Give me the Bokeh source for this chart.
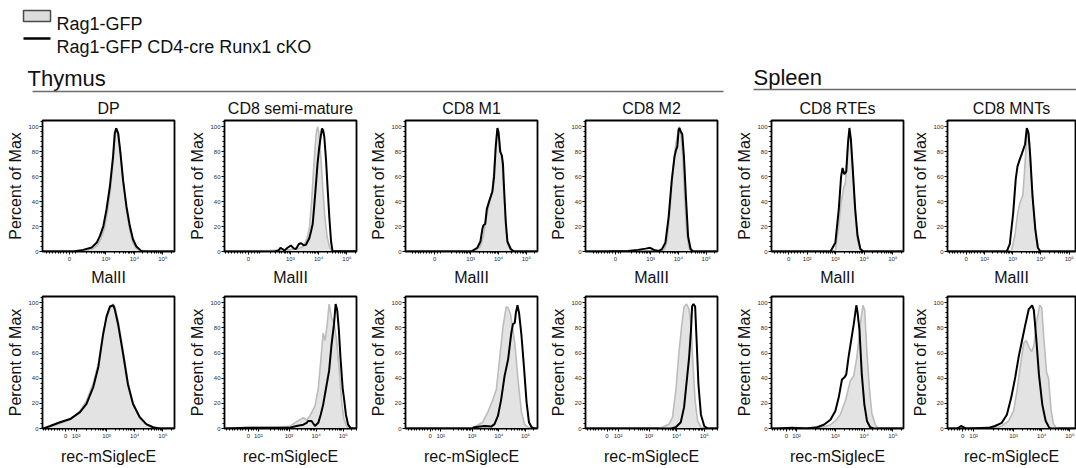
import numpy as np
from bokeh.plotting import figure
from bokeh.layouts import column, row
from bokeh.models import FixedTicker, Range1d
from bokeh.core.properties import value
from bokeh.embed import file_html
from bokeh.resources import INLINE

FONT = "Liberation Sans"

# ---------------- texts ----------------
legend_labels = ["Rag1-GFP", "Rag1-GFP CD4-cre Runx1 cKO"]
group_labels = ["Thymus", "Spleen"]
panel_titles = ["DP", "CD8 semi-mature", "CD8 M1", "CD8 M2", "CD8 RTEs", "CD8 MNTs"]
marker_labels = ["MalII", "rec-mSiglecE"]
y_axis_label = "Percent of Max"
y_ticks = [0, 20, 40, 60, 80, 100]
x_tick_labels = ["0", "10\u00b2", "10\u00b3", "10\u2074", "10\u2075"]

# ---------------- data (x in display decades: 3 = 10^3, 4 = 10^4 ...; y = % of max) ----------------
# Row 1: MalII
dp_malii_wt_x = [0.4, 2.0, 2.3, 2.55, 2.7, 2.82, 2.94, 3.05, 3.16, 3.26, 3.32, 3.37, 3.44, 3.52, 3.61, 3.72, 3.84, 3.95, 4.06, 4.2, 4.4, 5.6]
dp_malii_wt_y = [0, 0.2, 0.8, 2.2, 5, 10, 18, 31, 50, 74, 93, 99, 94, 77, 55, 33, 17, 7, 2.5, 0.5, 0, 0]
dp_malii_ko_x = [0.4, 1.9, 2.2, 2.5, 2.68, 2.79, 2.91, 3.02, 3.14, 3.25, 3.31, 3.36, 3.43, 3.51, 3.60, 3.72, 3.84, 3.95, 4.07, 4.24, 4.42, 5.6]
dp_malii_ko_y = [0, 0.3, 1.3, 3.2, 7.2, 12.5, 20.4, 33.7, 52.3, 76.1, 94.7, 98.7, 94.7, 78.8, 57.6, 36.3, 20.4, 9.8, 4.0, 0.5, 0, 0]

semi_malii_wt_x = [0.4, 2.0, 2.5, 3.0, 3.3, 3.45, 3.55, 3.62, 3.68, 3.75, 3.82, 3.88, 3.93, 3.97, 4.02, 4.08, 4.15, 4.22, 4.3, 4.38, 4.45, 4.55, 5.6]
semi_malii_wt_y = [0, 0.5, 1, 1.5, 2.5, 4, 8, 13, 20, 40, 65, 85, 97, 100, 93, 75, 50, 28, 12, 4, 1, 0, 0]
semi_malii_ko_x = [0.4, 2.45, 2.58, 2.65, 2.72, 2.79, 2.9, 3.02, 3.12, 3.2, 3.3, 3.38, 3.47, 3.55, 3.67, 3.73, 3.79, 3.85, 3.91, 3.96, 4.02, 4.08, 4.12, 4.16, 4.2, 4.26, 4.32, 4.38, 4.44, 4.49, 5.6]
semi_malii_ko_y = [0, 0, 0.8, 3, 2, 0.8, 3, 4.8, 2.5, 2, 6, 6.6, 5, 5.3, 10.6, 16, 22, 38, 55, 70, 83, 93, 98.6, 97, 92, 74, 50, 27, 8, 0.5, 0]

m1_malii_wt_x = [0.4, 3.1, 3.2, 3.35, 3.45, 3.55, 3.65, 3.78, 3.86, 3.93, 3.97, 4.02, 4.08, 4.14, 4.2, 4.26, 4.32, 4.44, 4.5, 5.6]
m1_malii_wt_y = [0, 0, 1, 4, 12, 25, 37, 50, 72, 92, 97, 92, 80, 68, 45, 20, 6, 1, 0, 0]
m1_malii_ko_x = [0.4, 3.0, 3.06, 3.24, 3.35, 3.42, 3.46, 3.52, 3.58, 3.66, 3.78, 3.84, 3.9, 3.96, 4.0, 4.06, 4.12, 4.16, 4.2, 4.26, 4.32, 4.44, 4.56, 5.6]
m1_malii_ko_y = [0, 0, 0.5, 3, 8, 18, 21, 22, 34, 40, 48, 60, 84, 99, 96, 80, 77, 70, 50, 24, 8, 2, 0, 0]

m2_malii_wt_x = [0.4, 3.4, 3.5, 3.6, 3.7, 3.8, 3.9, 3.98, 4.03, 4.1, 4.16, 4.22, 4.3, 4.38, 4.45, 5.6]
m2_malii_wt_y = [0, 0, 2, 10, 35, 65, 85, 95, 100, 92, 75, 45, 15, 3, 0, 0]
m2_malii_ko_x = [0.4, 1.5, 2.18, 2.53, 2.82, 2.98, 3.12, 3.29, 3.41, 3.53, 3.65, 3.76, 3.86, 3.91, 3.96, 4.01, 4.04, 4.09, 4.14, 4.2, 4.27, 4.35, 4.44, 4.53, 5.6]
m2_malii_ko_y = [0, 0.3, 0.5, 1.3, 2.3, 3, 1.3, 0.5, 2, 7, 28, 57, 76, 81, 84, 98, 99, 96, 94, 76, 44, 12, 2, 0, 0]

rte_malii_wt_x = [0.4, 2.95, 3.0, 3.12, 3.2, 3.29, 3.35, 3.4, 3.46, 3.5, 3.55, 3.61, 3.69, 3.77, 3.87, 3.95, 5.6]
rte_malii_wt_y = [0, 0, 1, 21, 39, 51, 55, 74, 92, 96, 87, 66, 31, 9, 1, 0, 0]
rte_malii_ko_x = [0.4, 2.83, 3.0, 3.12, 3.2, 3.25, 3.31, 3.38, 3.44, 3.49, 3.54, 3.6, 3.69, 3.77, 3.87, 3.98, 5.6]
rte_malii_ko_y = [0, 0, 7, 34, 60, 67, 62, 64, 87, 99, 90, 68, 34, 13, 2, 0, 0]

mnt_malii_wt_x = [0.4, 2.9, 2.96, 3.08, 3.18, 3.26, 3.36, 3.44, 3.5, 3.54, 3.6, 3.65, 3.74, 3.82, 3.92, 4.0, 5.6]
mnt_malii_wt_y = [0, 0, 1, 13, 31, 39, 45, 71, 94, 98, 87, 63, 34, 13, 2, 0, 0]
mnt_malii_ko_x = [0.4, 2.79, 2.9, 3.02, 3.11, 3.17, 3.24, 3.32, 3.44, 3.5, 3.56, 3.62, 3.7, 3.8, 3.89, 3.98, 5.6]
mnt_malii_ko_y = [0, 0, 6, 31, 58, 68, 73, 78, 86, 99, 95, 77, 45, 18, 3, 0, 0]

# Row 2: rec-mSiglecE
dp_sig_wt_x = [0.4, 0.76, 1.0, 1.35, 1.71, 2.06, 2.29, 2.53, 2.71, 2.88, 3.0, 3.12, 3.24, 3.29, 3.41, 3.59, 3.76, 3.94, 4.18, 4.41, 4.65, 4.88, 5.6]
dp_sig_wt_y = [0, 0, 1.5, 4, 7, 14, 22, 36, 52, 76, 88, 96, 99, 97, 86, 62, 37, 20, 8, 3, 0.5, 0, 0]
dp_sig_ko_x = [0.4, 0.76, 1.0, 1.35, 1.71, 2.06, 2.29, 2.53, 2.71, 2.88, 3.0, 3.12, 3.24, 3.29, 3.41, 3.59, 3.76, 3.94, 4.18, 4.41, 4.65, 4.88, 5.6]
dp_sig_ko_y = [0, 0, 2, 5, 7.5, 13, 19.5, 33, 49, 75, 89, 97, 98, 95, 83, 59, 35, 19.5, 9, 3.5, 1, 0, 0]

semi_sig_wt_x = [0.4, 1.0, 2.0, 2.6, 3.04, 3.4, 3.53, 3.65, 3.77, 3.96, 4.08, 4.18, 4.26, 4.33, 4.41, 4.48, 4.57, 4.66, 4.75, 4.85, 4.94, 5.02, 5.12, 5.25, 5.6]
semi_sig_wt_y = [0, 0.5, 1, 1, 2, 7, 8.5, 7, 10, 18, 32, 56, 76, 70, 83, 99, 88, 84, 71, 48, 22, 8, 2, 0, 0]
semi_sig_ko_x = [0.4, 1.5, 2.2, 3.0, 3.28, 3.53, 3.65, 3.71, 3.83, 3.96, 4.08, 4.17, 4.26, 4.39, 4.48, 4.57, 4.66, 4.72, 4.78, 4.84, 4.9, 4.98, 5.04, 5.1, 5.18, 5.27, 5.37, 5.6]
semi_sig_ko_y = [0, 0.5, 0.5, 0.5, 2, 3, 4.5, 6, 6, 2, 4.5, 11, 19, 35, 46, 67, 83, 99, 94, 78, 56, 32, 22, 11, 3, 0.5, 0, 0]

m1_sig_wt_x = [0.4, 2.96, 3.15, 3.4, 3.59, 3.78, 3.91, 4.03, 4.16, 4.28, 4.35, 4.45, 4.6, 4.72, 4.85, 4.97, 5.1, 5.2, 5.6]
m1_sig_wt_y = [0, 0, 2, 5, 13, 23, 31, 55, 81, 97, 96, 90, 68, 39, 13, 3, 1, 0, 0]
m1_sig_ko_x = [0.4, 3.0, 3.09, 3.47, 3.72, 3.84, 3.97, 4.09, 4.22, 4.35, 4.47, 4.53, 4.6, 4.64, 4.7, 4.76, 4.85, 4.95, 5.04, 5.13, 5.23, 5.35, 5.6]
m1_sig_ko_y = [0, 0, 1, 2, 1.5, 3.5, 10, 23, 42, 55, 76, 83, 84, 92, 98, 92, 74, 47, 21, 5, 1, 0, 0]

m2_sig_wt_x = [0.4, 3.3, 3.48, 3.73, 3.85, 3.97, 4.09, 4.19, 4.27, 4.36, 4.45, 4.52, 4.58, 4.67, 4.76, 4.88, 5.0, 5.6]
m2_sig_wt_y = [0, 0, 1, 3.5, 9, 30, 62, 83, 97, 99, 95, 83, 56, 22, 6, 1, 0, 0]
m2_sig_ko_x = [0.4, 3.8, 3.97, 4.15, 4.27, 4.39, 4.45, 4.52, 4.56, 4.61, 4.67, 4.72, 4.79, 4.88, 5.0, 5.12, 5.6]
m2_sig_ko_y = [0, 0, 1, 5, 17, 43, 56, 78, 97, 99, 97, 72, 35, 11, 2, 0, 0]

rte_sig_wt_x = [0.4, 2.2, 2.48, 2.83, 3.0, 3.17, 3.35, 3.52, 3.64, 3.75, 3.87, 3.96, 4.02, 4.1, 4.19, 4.27, 4.39, 4.5, 5.6]
rte_sig_wt_y = [0, 0, 0.5, 3, 6, 11, 22, 38, 42, 57, 83, 98, 94, 60, 30, 12, 3, 0, 0]
rte_sig_ko_x = [0.4, 1.0, 1.5, 2.0, 2.36, 2.6, 2.83, 3.0, 3.12, 3.23, 3.31, 3.38, 3.46, 3.55, 3.64, 3.73, 3.77, 3.84, 3.92, 4.01, 4.1, 4.21, 4.33, 5.6]
rte_sig_ko_y = [0, 0, 0.5, 0, 1, 3, 7, 14, 25, 39, 40.5, 43, 57, 70, 83, 98, 93, 78, 43, 19, 6, 1, 0, 0]

mnt_sig_wt_x = [0.4, 2.3, 2.58, 2.82, 3.0, 3.12, 3.24, 3.36, 3.45, 3.54, 3.64, 3.72, 3.84, 3.93, 4.0, 4.08, 4.17, 4.24, 4.33, 4.41, 4.51, 4.6, 5.6]
mnt_sig_wt_y = [0, 0, 2, 6, 14, 30, 50, 68, 70, 65, 61, 66, 88, 98, 96, 70, 45, 40, 15, 4, 0.5, 0, 0]
mnt_sig_ko_x = [0.4, 1.0, 1.13, 1.3, 2.1, 2.34, 2.58, 2.76, 2.92, 3.06, 3.18, 3.3, 3.42, 3.54, 3.66, 3.72, 3.81, 3.9, 4.02, 4.14, 4.27, 4.35, 5.6]
mnt_sig_ko_y = [0, 0, 2, 0, 0.5, 2, 4.5, 11, 25, 41, 57, 70, 83, 95, 98, 94, 70, 43, 19, 6, 0.5, 0, 0]

row1_data = [
    (dp_malii_wt_x, dp_malii_wt_y, dp_malii_ko_x, dp_malii_ko_y),
    (semi_malii_wt_x, semi_malii_wt_y, semi_malii_ko_x, semi_malii_ko_y),
    (m1_malii_wt_x, m1_malii_wt_y, m1_malii_ko_x, m1_malii_ko_y),
    (m2_malii_wt_x, m2_malii_wt_y, m2_malii_ko_x, m2_malii_ko_y),
    (rte_malii_wt_x, rte_malii_wt_y, rte_malii_ko_x, rte_malii_ko_y),
    (mnt_malii_wt_x, mnt_malii_wt_y, mnt_malii_ko_x, mnt_malii_ko_y),
]
row2_data = [
    (dp_sig_wt_x, dp_sig_wt_y, dp_sig_ko_x, dp_sig_ko_y),
    (semi_sig_wt_x, semi_sig_wt_y, semi_sig_ko_x, semi_sig_ko_y),
    (m1_sig_wt_x, m1_sig_wt_y, m1_sig_ko_x, m1_sig_ko_y),
    (m2_sig_wt_x, m2_sig_wt_y, m2_sig_ko_x, m2_sig_ko_y),
    (rte_sig_wt_x, rte_sig_wt_y, rte_sig_ko_x, rte_sig_ko_y),
    (mnt_sig_wt_x, mnt_sig_wt_y, mnt_sig_ko_x, mnt_sig_ko_y),
]

# ---------------- geometry (display-scale of each panel's biexponential axis) ----------------
# (left end, right end, position of "0", position of "10^2" label or None)
row1_scales = [(0.77, 5.41, 1.72, None), (0.67, 5.34, 1.52, None), (0.66, 5.40, 1.71, None),
               (0.65, 5.41, 1.73, None), (0.78, 5.37, 1.38, 2.02), (0.70, 5.22, 1.36, 2.01)]
row2_scales = [(0.73, 5.41, 1.55, 1.92), (0.62, 5.49, 1.50, 1.87), (0.51, 5.45, 1.43, 1.83),
               (0.70, 5.48, 1.48, 1.88), (0.78, 5.37, 1.30, 1.65), (0.65, 5.20, 1.19, 1.58)]
fig_widths = [184, 181, 180, 186, 176, 169]
left_borders = [42, 40, 40, 40, 40, 40]
right_borders = [10, 9, 8, 14, 4, 1]

WT_FILL = "#e3e3e3"
WT_LINE = "#bcbcbc"
KO_LINE = "#000000"


def make_panel(data, scale, width, left_border, right_border, height, top_border, bottom_border,
               title, xlabel, xlabel_standoff):
    wt_x, wt_y, ko_x, ko_y = data
    lo, hi, zero, e2 = scale
    p = figure(width=width, height=height, x_range=Range1d(lo, hi), y_range=Range1d(0, 105),
               output_backend="svg", toolbar_location=None, title=title,
               min_border_left=left_border, min_border_right=right_border,
               min_border_top=top_border, min_border_bottom=bottom_border)
    p.varea(x=wt_x, y1=0, y2=wt_y, fill_color=WT_FILL)
    p.line(wt_x, wt_y, line_color=WT_LINE, line_width=1.6)
    p.line(ko_x, ko_y, line_color=KO_LINE, line_width=2.0)

    # x ticks
    majors = [zero]
    overrides = {zero: x_tick_labels[0]}
    if e2 is not None:
        majors.append(e2)
        overrides[e2] = x_tick_labels[1]
    for d, lab in zip([3, 4, 5], x_tick_labels[2:]):
        majors.append(float(d))
        overrides[float(d)] = lab
    base = e2 if e2 is not None else 2.0
    minors = []
    for d in range(2, 6):
        for k in range(2, 10):
            v = d + np.log10(k)
            if lo < v < hi:
                minors.append(float(v))
    for k in range(-8, 9):
        v = zero + 0.1 * k
        if k != 0 and lo < v < base - 0.04:
            minors.append(float(v))
    p.xaxis.ticker = FixedTicker(ticks=majors, minor_ticks=minors)
    p.xaxis.major_label_overrides = overrides
    p.yaxis.ticker = FixedTicker(ticks=y_ticks, minor_ticks=list(range(0, 105, 4)))

    for ax in (p.xaxis[0], p.yaxis[0]):
        ax.major_label_text_font = FONT
        ax.major_label_text_font_size = "6px"
        ax.major_label_text_color = "#2a2a2a"
        ax.major_tick_in = 0
        ax.major_tick_out = 3
        ax.minor_tick_in = 0
        ax.minor_tick_out = 2
        ax.major_label_standoff = 1
        ax.axis_line_color = "black"
        ax.major_tick_line_color = "black"
        ax.minor_tick_line_color = "black"
        ax.axis_label_text_font = FONT
        ax.axis_label_text_font_size = "16px"
        ax.axis_label_text_font_style = "normal"
        ax.axis_label_text_color = "#111111"
    p.xaxis.axis_label = xlabel
    p.xaxis.axis_label_standoff = xlabel_standoff
    p.yaxis.axis_label = y_axis_label
    p.yaxis.axis_label_standoff = 1

    p.xgrid.visible = False
    p.ygrid.visible = False
    p.outline_line_color = "black"
    p.outline_line_width = 1.8
    p.outline_line_alpha = 1.0
    if title:
        p.title.text_font = FONT
        p.title.text_font_size = "16px"
        p.title.text_font_style = "normal"
        p.title.text_color = "#111111"
        p.title.align = "center"
        p.title.standoff = 7
    return p


# ---------------- header (legend + group labels) ----------------
HDR_H = 94
hdr = figure(width=1076, height=HDR_H, x_range=Range1d(0, 1076), y_range=Range1d(HDR_H, 0),
             output_backend="svg", toolbar_location=None, x_axis_type=None, y_axis_type=None,
             min_border=0)
hdr.grid.visible = False
hdr.outline_line_color = None
hdr.quad(left=23, right=50, top=10, bottom=21, fill_color="#dcdcdc", line_color="#4a4a4a", line_width=1.5)
hdr.segment(x0=23, y0=38, x1=50, y1=38, line_color="black", line_width=2.6)
hdr.text(x=[56, 56], y=[23, 46], text=legend_labels, text_font=value(FONT), text_font_size="18px",
         text_baseline="alphabetic", text_align="left", text_color="#111111")
hdr.text(x=[27, 753], y=[77.5, 77], text=group_labels, text_font=value(FONT), text_font_size="22px",
         text_baseline="alphabetic", text_align="left", text_color="#111111")
hdr.segment(x0=[32, 753], y0=[91, 89], x1=[723, 1076], y1=[91, 89], line_color="#6b6b6b", line_width=1.3)

top_figs = [make_panel(row1_data[i], row1_scales[i], fig_widths[i], left_borders[i], right_borders[i],
                       194, 26, 36, panel_titles[i], marker_labels[0], 4) for i in range(6)]
bot_figs = [make_panel(row2_data[i], row2_scales[i], fig_widths[i], left_borders[i], right_borders[i],
                       180, 8, 40, None, marker_labels[1], 6) for i in range(6)]

layout = column(hdr, row(*top_figs), row(*bot_figs))
open("out.html", "w").write(file_html(layout, INLINE))
